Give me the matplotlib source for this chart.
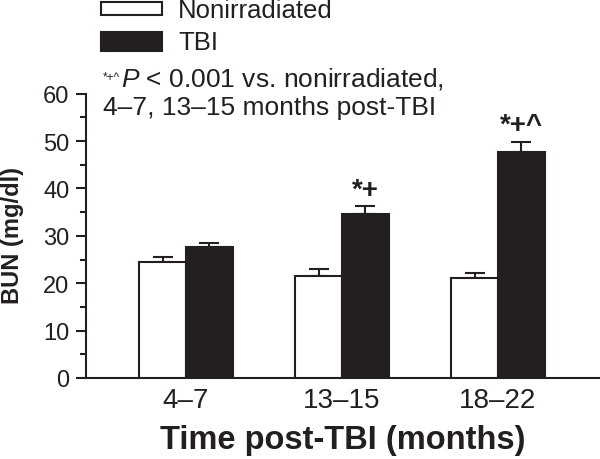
import matplotlib
matplotlib.use('Agg')
import matplotlib.pyplot as plt
import numpy as np
from matplotlib.patches import Rectangle

plt.rcParams['font.family'] = ['Liberation Sans', 'DejaVu Sans']
plt.rcParams['mathtext.fontset'] = 'custom'
plt.rcParams['mathtext.it'] = 'Liberation Sans:italic'
plt.rcParams['mathtext.rm'] = 'Liberation Sans'

# data
groups = ['4\u20137', '13\u201315', '18\u201322']
nonirr = [24.4, 21.5, 21.1]
nonirr_err = [1.1, 1.6, 1.1]
tbi = [27.6, 34.6, 47.6]
tbi_err = [0.9, 1.6, 2.3]
marks = ['', '*+', '*+^']

ink = '#231f20'
W, H = 600, 460

fig = plt.figure(figsize=(6, 4.6), dpi=100)
ax = fig.add_axes([86 / W, 1 - 379 / H, (600 - 86) / W, (379 - 94.7) / H])

x = np.arange(len(groups))
bw = 0.3
ax.bar(x - bw / 2, nonirr, bw, color='white', edgecolor=ink, linewidth=1.5, zorder=3)
ax.bar(x + bw / 2, tbi, bw, color=ink, edgecolor=ink, linewidth=1.5, zorder=3)
ax.errorbar(x - bw / 2, nonirr, yerr=[np.zeros(3), nonirr_err], fmt='none',
            ecolor=ink, elinewidth=1.5, capsize=7, capthick=1.5, zorder=2)
ax.errorbar(x + bw / 2, tbi, yerr=[np.zeros(3), tbi_err], fmt='none',
            ecolor=ink, elinewidth=1.5, capsize=7, capthick=1.5, zorder=2)

# significance marks above TBI bars
for i, m in enumerate(marks):
    if m:
        ax.text(x[i] + bw / 2, tbi[i] + tbi_err[i] + 3.5, m, ha='center', va='center',
                fontsize=20, fontweight='bold', color=ink)

ax.set_xlim(-0.641, 2.654)
ax.set_ylim(0, 60)
ax.set_yticks(np.arange(0, 61, 10))
ax.set_yticks(np.arange(5, 60, 10), minor=True)
ax.set_xticks(x)
ax.set_xticklabels(groups)
ax.tick_params(axis='x', length=0, pad=6.5, labelsize=20, colors=ink)
ax.tick_params(axis='y', which='major', length=7, width=1.5, pad=5, labelsize=17, colors=ink)
ax.tick_params(axis='y', which='minor', length=4.3, width=1.5, colors=ink)
for s in ['top', 'right']:
    ax.spines[s].set_visible(False)
for s in ['left', 'bottom']:
    ax.spines[s].set_linewidth(1.5)
    ax.spines[s].set_color(ink)

ax.set_ylabel('BUN (mg/dl)', fontsize=17, fontweight='bold', color=ink)
ax.yaxis.set_label_coords(13 / W, 1 - 235 / H, transform=fig.transFigure)
ax.yaxis.label.set_verticalalignment('center')
ax.set_xlabel('Time post-TBI (months)', fontsize=23.5, fontweight='bold', color=ink)
ax.xaxis.set_label_coords(343 / W, 1 - 441 / H, transform=fig.transFigure)
ax.xaxis.label.set_verticalalignment('center')

# legend drawn by hand
fig.patches.append(Rectangle((101 / W, 1 - 16 / H), 61 / W, 13 / H, transform=fig.transFigure,
                             facecolor='white', edgecolor=ink, linewidth=1.5))
fig.patches.append(Rectangle((101 / W, 1 - 52 / H), 61 / W, 19 / H, transform=fig.transFigure,
                             facecolor=ink, edgecolor=ink, linewidth=1.5))
fig.text(178 / W, 1 - 11 / H, 'Nonirradiated', fontsize=18.5, va='center', color=ink)
fig.text(178 / W, 1 - 43 / H, 'TBI', fontsize=18.5, va='center', color=ink)

# note
fig.text(103 / W, 1 - 78 / H, '*+^', fontsize=8.5, va='center', color=ink)
fig.text(121 / W, 1 - 87 / H, r'$\it{P}$ < 0.001 vs. nonirradiated,', fontsize=19,
         va='baseline', color=ink)
fig.text(103 / W, 1 - 115 / H, '4\u20137, 13\u201315 months post-TBI', fontsize=19,
         va='baseline', color=ink)

fig.savefig('out.png', dpi=100)
